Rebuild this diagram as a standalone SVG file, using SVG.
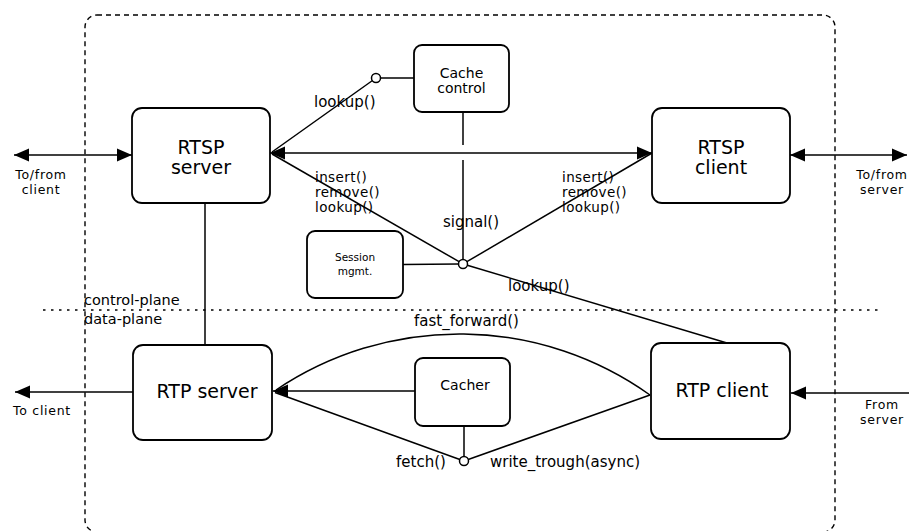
<svg xmlns="http://www.w3.org/2000/svg" width="909" height="531" viewBox="0 0 909 531">
  <style>
    text { font-family: "DejaVu Sans", "Liberation Sans", sans-serif; fill: #000; }
    .box { fill: #fff; stroke: #000; stroke-width: 1.8; }
    .big { font-size: 19px; text-anchor: middle; }
    .mid { font-size: 14px; text-anchor: middle; }
    .small { font-size: 10.5px; text-anchor: middle; }
    .lbl { font-size: 15px; }
    .stack { font-size: 13.5px; letter-spacing: 0.4px; }
    .ext { font-size: 12.5px; letter-spacing: 0.7px; text-anchor: middle; }
    .wire { fill: none; stroke: #000; stroke-width: 1.5; }
    .port { fill: #fff; stroke: #000; stroke-width: 1.5; }
    .arrow { marker-end: url(#head); }
    .both { marker-start: url(#head); marker-end: url(#head); }
  </style>
  <defs>
    <marker id="head" markerUnits="userSpaceOnUse" markerWidth="16" markerHeight="14" viewBox="0 0 16 14" refX="15" refY="7" orient="auto-start-reverse">
      <path d="M0,0.5 L15,7 L0,13.5 z" fill="#000"/>
    </marker>
  </defs>

  <!-- system boundary and plane separator -->
  <g id="boundary">
    <rect x="85" y="15" width="750" height="517" rx="12" fill="none" stroke="#000" stroke-width="1.4" stroke-dasharray="5 4"/>
    <line x1="43" y1="310" x2="880" y2="310" stroke="#000" stroke-width="1.4" stroke-dasharray="2.5 5.5"/>
    <text class="lbl" x="84" y="305" style="font-size:14.5px">control-plane</text>
    <text class="lbl" x="84" y="324" style="font-size:14.5px">data-plane</text>
  </g>

  <!-- connectors -->
  <g id="connectors">
    <!-- external links -->
    <line class="wire both" x1="14" y1="155" x2="132" y2="155"/>
    <line class="wire both" x1="790" y1="155" x2="907" y2="155"/>
    <line class="wire arrow" x1="133" y1="392" x2="15" y2="392"/>
    <line class="wire arrow" x1="909" y1="393" x2="791" y2="393"/>

    <!-- RTSP server <-> RTSP client -->
    <line class="wire both" x1="270" y1="153" x2="652" y2="153"/>

    <!-- lookup() to cache control -->
    <line class="wire" x1="272" y1="152" x2="372.5" y2="80.5"/>
    <line class="wire" x1="380.5" y1="78" x2="414" y2="78"/>

    <!-- cache control signal (jumps the RTSP line) -->
    <line class="wire" x1="463" y1="112" x2="463" y2="145"/>
    <line class="wire" x1="463" y1="160" x2="463" y2="259.5"/>

    <!-- session management -->
    <line class="wire" x1="403" y1="264.5" x2="458.5" y2="264"/>
    <line class="wire" x1="272" y1="154" x2="459.1" y2="261.7"/>
    <line class="wire" x1="466.9" y1="261.7" x2="652" y2="153"/>
    <line class="wire" x1="467.3" y1="265.3" x2="727" y2="343"/>

    <!-- RTSP server to RTP server -->
    <line class="wire" x1="205" y1="203" x2="205" y2="345"/>

    <!-- data plane -->
    <path class="wire" d="M650,395 A328,328 0 0 0 276,390"/>
    <line class="wire arrow" x1="415" y1="391" x2="273" y2="391"/>
    <line class="wire" x1="275" y1="392.5" x2="459.8" y2="459.5"/>
    <line class="wire" x1="468.2" y1="459.5" x2="650" y2="395"/>
    <line class="wire" x1="464" y1="426" x2="464" y2="456.5"/>

    <!-- ports -->
    <circle class="port" cx="376" cy="78" r="4.5"/>
    <circle class="port" cx="463" cy="264" r="4.5"/>
    <circle class="port" cx="464" cy="461" r="4.5"/>

    <!-- connector labels -->
    <text class="lbl" x="314" y="107">lookup()</text>
    <text class="stack" x="315" y="182">insert()</text>
    <text class="stack" x="315" y="197">remove()</text>
    <text class="stack" x="315" y="212">lookup()</text>
    <text class="stack" x="562" y="182">insert()</text>
    <text class="stack" x="562" y="197">remove()</text>
    <text class="stack" x="562" y="212">lookup()</text>
    <text class="lbl" x="443" y="227">signal()</text>
    <text class="lbl" x="508" y="291">lookup()</text>
    <text class="lbl" x="414" y="326">fast_forward()</text>
    <text class="lbl" x="396" y="467">fetch()</text>
    <text class="lbl" x="490" y="467">write_trough(async)</text>

    <text class="ext" x="41" y="179">To/from</text>
    <text class="ext" x="41" y="194">client</text>
    <text class="ext" x="882" y="179">To/from</text>
    <text class="ext" x="882" y="194">server</text>
    <text class="ext" x="42" y="415">To client</text>
    <text class="ext" x="882" y="409">From</text>
    <text class="ext" x="882" y="424">server</text>
  </g>

  <!-- nodes -->
  <g id="rtsp-server">
    <rect class="box" x="132" y="108" width="138" height="95" rx="10"/>
    <text class="big" x="201" y="154">RTSP</text>
    <text class="big" x="201" y="174">server</text>
  </g>
  <g id="rtsp-client">
    <rect class="box" x="652" y="108" width="138" height="95" rx="10"/>
    <text class="big" x="721" y="154">RTSP</text>
    <text class="big" x="721" y="174">client</text>
  </g>
  <g id="cache-control">
    <rect class="box" x="414" y="45" width="95" height="67" rx="8"/>
    <text class="mid" x="461.5" y="78">Cache</text>
    <text class="mid" x="461.5" y="93">control</text>
  </g>
  <g id="session-mgmt">
    <rect class="box" x="307" y="231" width="96" height="67" rx="8"/>
    <text class="small" x="355" y="261">Session</text>
    <text class="small" x="355" y="275">mgmt.</text>
  </g>
  <g id="rtp-server">
    <rect class="box" x="133" y="345" width="139" height="95" rx="10"/>
    <text class="big" x="207" y="398">RTP server</text>
  </g>
  <g id="cacher">
    <rect class="box" x="415" y="358" width="95" height="68" rx="8"/>
    <text class="mid" x="465" y="390">Cacher</text>
  </g>
  <g id="rtp-client">
    <rect class="box" x="651" y="343" width="139" height="96" rx="10"/>
    <text class="big" x="722" y="397">RTP client</text>
  </g>
</svg>
